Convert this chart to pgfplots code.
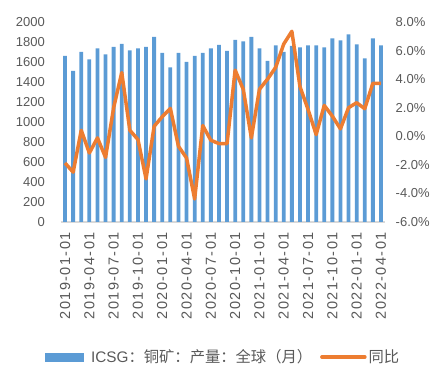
\documentclass[border=0pt]{standalone}
\usepackage{pgfplots}
\pgfplotsset{compat=1.18}
\usepackage{pgfplotstable}
\usepackage{fontspec}
\setmainfont{Liberation Sans}
\newfontfamily\cjk{Noto Sans CJK SC}
\definecolor{barblue}{HTML}{5B9BD5}
\definecolor{lineorange}{HTML}{ED7D31}
\definecolor{txtgray}{HTML}{595959}
\definecolor{axgray}{HTML}{D9D9D9}

\pgfplotstableread{
idx val
0 1660
1 1510
2 1700
3 1625
4 1735
5 1675
6 1750
7 1780
8 1715
9 1735
10 1750
11 1850
12 1690
13 1545
14 1690
15 1600
16 1660
17 1690
18 1735
19 1770
20 1710
21 1820
22 1805
23 1850
24 1735
25 1610
26 1765
27 1700
28 1760
29 1745
30 1765
31 1765
32 1745
33 1835
34 1815
35 1875
36 1775
37 1635
38 1835
39 1765
}\prodtable

\pgfplotstableread{
idx yoy
0 -1.87
1 -2.51
2 0.42
3 -1.17
4 -0.11
5 -1.48
6 2.00
7 4.46
8 0.42
9 -0.23
10 -2.98
11 0.70
12 1.37
13 1.95
14 -0.70
15 -1.52
16 -4.39
17 0.75
18 -0.28
19 -0.51
20 -0.51
21 4.63
22 3.29
23 -0.11
24 3.29
25 4.00
26 4.82
27 6.46
28 7.35
29 3.48
30 1.88
31 0.12
32 2.16
33 1.41
34 0.52
35 2.00
36 2.35
37 1.93
38 3.71
39 3.70
}\yoytable

\begin{document}
\begin{tikzpicture}[x=1pt,y=1pt]
\path[use as bounding box] (-61,-163) rectangle (386,222);
\begin{axis}[
  at={(0,0)}, anchor=south west,
  scale only axis, width=324pt, height=200pt,
  xmin=-0.5, xmax=39.5, ymin=0, ymax=2000,
  axis x line*=bottom, axis y line*=left,
  y axis line style={draw=none},
  x axis line style={draw=axgray, line width=1.2pt, -},
  xtick={0,3,...,39},
  xticklabels={2019-01-01,2019-04-01,2019-07-01,2019-10-01,2020-01-01,2020-04-01,2020-07-01,2020-10-01,2021-01-01,2021-04-01,2021-07-01,2021-10-01,2022-01-01,2022-04-01},
  major x tick style={draw=none},
  extra x ticks={-0.5,2.5,...,38.5},
  extra x tick labels={},
  extra x tick style={major tick length=6pt, tick align=outside, major tick style={draw=axgray, line width=1.2pt}},
  xticklabel style={yshift=-10pt, rotate=90, anchor=east, inner sep=0pt, text=txtgray,
    font=\fontsize{14.5}{16}\selectfont\addfontfeature{LetterSpace=10}},
  ytick={0,200,...,2000},
  ytick style={draw=none},
  yticklabel style={anchor=east, inner sep=0pt, xshift=-16pt, text=txtgray, font=\fontsize{13}{15}\selectfont},
  /pgf/number format/1000 sep={},
  /pgf/number format/assume math mode=true,
]
\addplot[ybar, bar width=3.8pt, fill=barblue, draw=none] table[x=idx, y=val] {\prodtable};
\end{axis}
\begin{axis}[
  at={(0,0)}, anchor=south west,
  scale only axis, width=324pt, height=200pt,
  xmin=-0.5, xmax=39.5, ymin=-6, ymax=8,
  axis y line*=right, axis x line=none,
  y axis line style={draw=none},
  ytick={-6,-4,...,8},
  ytick style={draw=none},
  yticklabel={\pgfmathprintnumber[fixed,fixed zerofill,precision=1,assume math mode=true]{\tick}\%},
  yticklabel style={anchor=west, inner sep=0pt, xshift=10.5pt, text=txtgray, font=\fontsize{13}{15}\selectfont},
  legend style={at={(0.5,-0.675)}, anchor=center, draw=none, fill=none,
    legend columns=2, font=\fontsize{15.3}{17}\selectfont, text=txtgray,
    /tikz/every even column/.append style={column sep=6pt}},
  legend cell align=left,
]
\addlegendimage{legend image code/.code={\fill[barblue] (0pt,-4pt) rectangle (38pt,4pt);}}
\addlegendentry{\hspace{6pt}ICSG{\cjk ：铜矿：产量：全球（月）}}
\addplot[lineorange, line width=3.5pt, line join=round,
  legend image code/.code={\draw[lineorange, line width=3.5pt, line cap=round] (0pt,0pt) -- (43pt,0pt);}]
  table[x=idx, y=yoy] {\yoytable};
\addlegendentry{{\cjk 同比}}
\end{axis}
\end{tikzpicture}
\end{document}
